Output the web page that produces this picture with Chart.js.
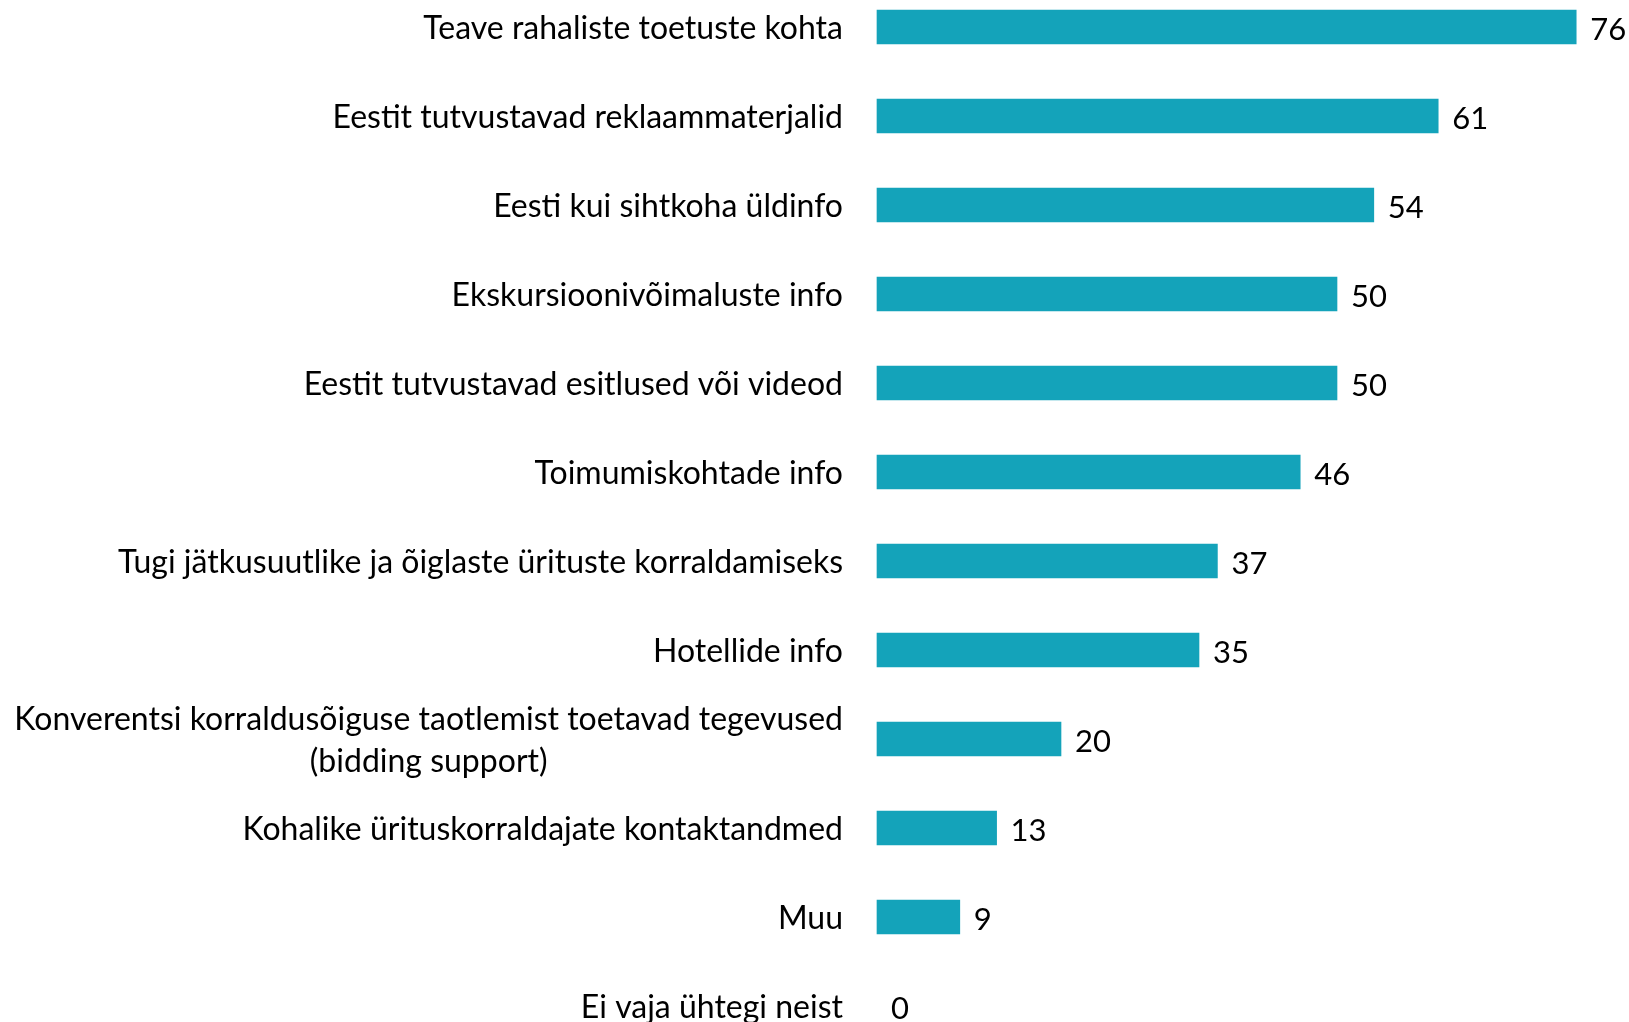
<!DOCTYPE html>
<html>
<head>
<meta charset="utf-8">
<script src="https://cdn.jsdelivr.net/npm/chart.js@4"></script>
<style>
  html, body { margin: 0; padding: 0; background: #fff; }
  #wrap { width: 1629px; height: 1022px; position: relative; }
</style>
</head>
<body>
<div id="wrap"><canvas id="chart"></canvas></div>
<script>
// categories (multi-line label given as array of lines)
const categories = [
  'Teave rahaliste toetuste kohta',
  'Eestit tutvustavad reklaammaterjalid',
  'Eesti kui sihtkoha üldinfo',
  'Ekskursioonivõimaluste info',
  'Eestit tutvustavad esitlused või videod',
  'Toimumiskohtade info',
  'Tugi jätkusuutlike ja õiglaste ürituste korraldamiseks',
  'Hotellide info',
  ['Konverentsi korraldusõiguse taotlemist toetavad tegevused', '(bidding support)'],
  'Kohalike ürituskorraldajate kontaktandmed',
  'Muu',
  'Ei vaja ühtegi neist'
];
const values = [76, 61, 54, 50, 50, 46, 37, 35, 20, 13, 9, 0];

const FONT = 'Lato, "Open Sans", sans-serif';
const FONT_SIZE = 32;
const BAR_COLOR = '#14A3BA';

// draws category labels (right aligned block, lines centered inside) and value labels
const labelPlugin = {
  id: 'labelPlugin',
  afterDatasetsDraw(chart) {
    const ctx = chart.ctx;
    const yScale = chart.scales.y;
    const meta = chart.getDatasetMeta(0);
    ctx.save();
    ctx.font = `${FONT_SIZE}px ${FONT}`;
    ctx.fillStyle = '#000';
    ctx.textBaseline = 'middle';

    const right = chart.chartArea.left - 34;
    const lineH = 42;
    categories.forEach((lab, i) => {
      const y = yScale.getPixelForValue(i) + 2;
      const lines = Array.isArray(lab) ? lab : [lab];
      const widest = Math.max(...lines.map(l => ctx.measureText(l).width));
      const startY = y - (lines.length - 1) * lineH / 2;
      lines.forEach((l, k) => {
        ctx.textAlign = 'center';
        ctx.fillText(l, right - widest / 2, startY + k * lineH);
      });
    });

    ctx.font = `31px ${FONT}`;
    ctx.textAlign = 'left';
    meta.data.forEach((bar, i) => {
      ctx.fillText(String(values[i]), bar.x + 14, bar.y + 3);
    });
    ctx.restore();
  }
};

new Chart(document.getElementById('chart'), {
  type: 'bar',
  data: {
    labels: categories,
    datasets: [{
      data: values,
      // zero bars would otherwise leave a hairline
      backgroundColor: values.map(v => v > 0 ? BAR_COLOR : 'rgba(0,0,0,0)'),
      borderWidth: 0,
      barThickness: 34,
      clip: false
    }]
  },
  options: {
    indexAxis: 'y',
    responsive: true,
    maintainAspectRatio: false,
    animation: false,
    layout: { padding: { top: 27, bottom: 16, right: 16, left: 0 } },
    plugins: {
      legend: { display: false },
      tooltip: { enabled: false }
    },
    scales: {
      x: {
        display: false,
        min: 0,
        max: 80
      },
      y: {
        offset: false,
        grid: { display: false },
        border: { display: false },
        ticks: { display: false },
        afterFit(scale) { scale.width = 877; }
      }
    }
  },
  plugins: [labelPlugin]
});
</script>
</body>
</html>
